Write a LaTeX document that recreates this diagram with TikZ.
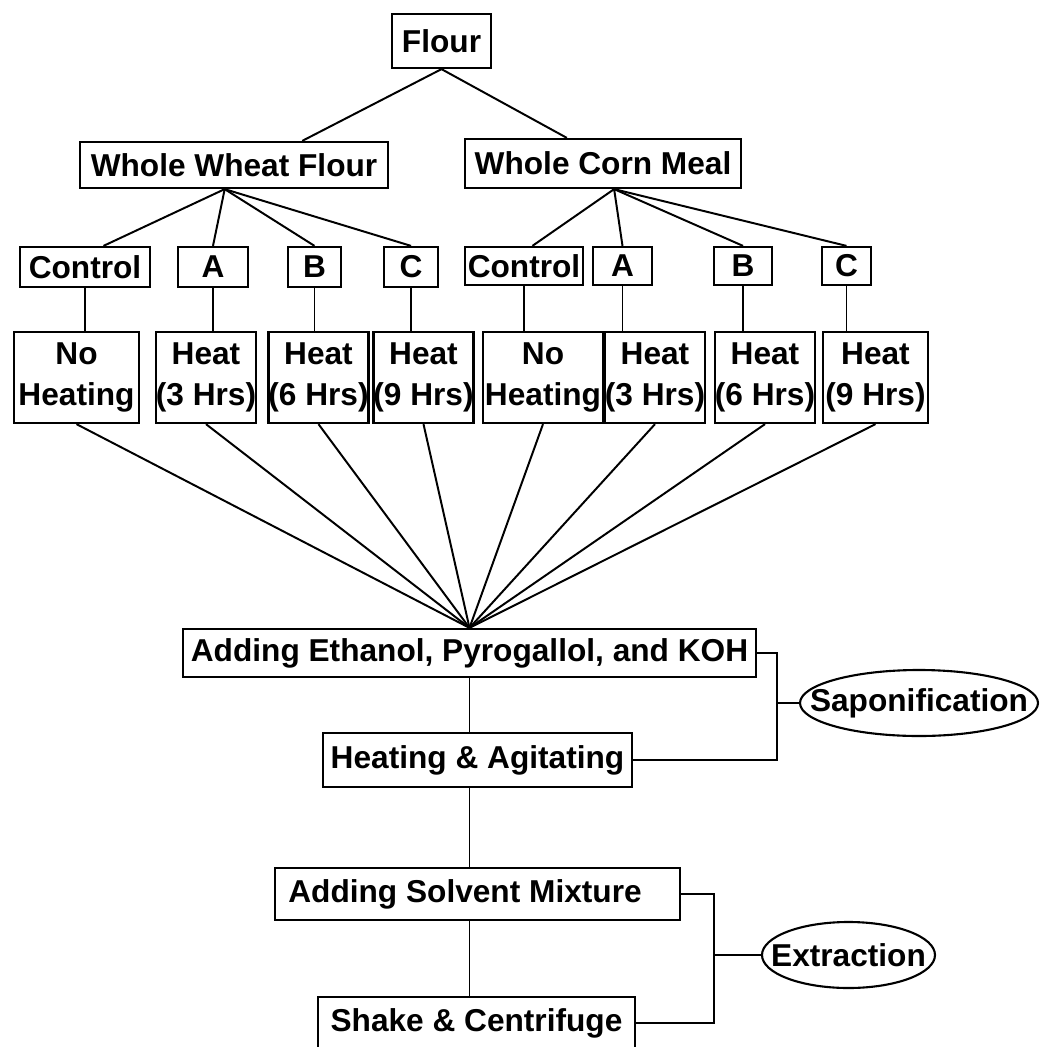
\documentclass[tikz,border=0pt]{standalone}
\usepackage{fontspec}
\setmainfont{Liberation Sans}
\usetikzlibrary{shapes.geometric, calc}
\newlength{\pxu}
\setlength{\pxu}{0.025cm}

\begin{document}
\begin{tikzpicture}[
    x=0.025cm, y=-0.025cm,
    stage/.style={draw, line width=1.6pt, inner sep=0pt, align=center, font=\fontsize{22.5}{29.5}\selectfont\bfseries},
    oval/.style={ellipse, draw, line width=1.5pt, inner sep=0pt, font=\fontsize{22.5}{29.5}\selectfont\bfseries},
    link/.style={line width=1.4pt},
]
    \useasboundingbox (0,0) rectangle (1040,1047);

    % Flour and the two meals
    \node[stage, minimum width=99\pxu, minimum height=54\pxu] (flour) at (441.5,41) {Flour};
    \node[stage, minimum width=308\pxu, minimum height=46\pxu] (wwf) at (234,165) {Whole Wheat Flour};
    \node[stage, minimum width=276\pxu, minimum height=49\pxu] (wcm) at (603,163.5) {Whole Corn Meal};
    \draw[link] (flour.south) -- ($(wwf.north west)!.72!(wwf.north east)$);
    \draw[link] (flour.south) -- ($(wcm.north west)!.37!(wcm.north east)$);
    \coordinate (wwfb) at ($(wwf.south west)!.47!(wwf.south east)$);
    \coordinate (wcmb) at ($(wcm.south west)!.54!(wcm.south east)$);

    % Treatments, wheat
    \node[stage, minimum width=130\pxu, minimum height=40\pxu] (ctrlW) at (85,267) {Control};
    \node[stage, minimum width=70\pxu, minimum height=40\pxu] (aW) at (213,267) {A};
    \node[stage, minimum width=53\pxu, minimum height=40\pxu] (bW) at (314.5,267) {B};
    \node[stage, minimum width=54\pxu, minimum height=40\pxu] (cW) at (411,267) {C};
    \draw[link] (wwfb) -- ($(ctrlW.north west)!.64!(ctrlW.north east)$);
    \draw[link] (wwfb) -- (aW.north);
    \draw[link] (wwfb) -- (bW.north);
    \draw[link] (wwfb) -- (cW.north);

    % Treatments, corn
    \node[stage, minimum width=118\pxu, minimum height=38\pxu] (ctrlC) at (524,266) {Control};
    \node[stage, minimum width=59\pxu, minimum height=38\pxu] (aC) at (622.5,266) {A};
    \node[stage, minimum width=58\pxu, minimum height=38\pxu] (bC) at (743,266) {B};
    \node[stage, minimum width=49\pxu, minimum height=38\pxu] (cC) at (846.5,266) {C};
    \draw[link] (wcmb) -- ($(ctrlC.north west)!.57!(ctrlC.north east)$);
    \draw[link] (wcmb) -- (aC.north);
    \draw[link] (wcmb) -- (bC.north);
    \draw[link] (wcmb) -- (cC.north);

    % Heating times
    \node[stage, minimum width=125\pxu, minimum height=91\pxu] (nhW) at (76.5,377.5) {No\\Heating};
    \node[stage, minimum width=100\pxu, minimum height=91\pxu] (h3W) at (206,377.5) {Heat\\(3 Hrs)};
    \node[stage, minimum width=99\pxu, minimum height=91\pxu] (h6W) at (318.5,377.5) {Heat\\(6 Hrs)};
    \node[stage, minimum width=99\pxu, minimum height=91\pxu] (h9W) at (423.5,377.5) {Heat\\(9 Hrs)};
    \node[stage, minimum width=120\pxu, minimum height=91\pxu] (nhC) at (543,377.5) {No\\Heating};
    \node[stage, minimum width=98\pxu, minimum height=91\pxu] (h3C) at (655,377.5) {Heat\\(3 Hrs)};
    \node[stage, minimum width=100\pxu, minimum height=91\pxu] (h6C) at (765,377.5) {Heat\\(6 Hrs)};
    \node[stage, minimum width=105\pxu, minimum height=91\pxu] (h9C) at (875.5,377.5) {Heat\\(9 Hrs)};
    \draw[link] (ctrlW.south) -- (ctrlW.south |- nhW.north);
    \draw[link] (aW.south) -- (aW.south |- h3W.north);
    \draw[link] (bW.south) -- (bW.south |- h6W.north);
    \draw[link] (cW.south) -- (cW.south |- h9W.north);
    \draw[link] (ctrlC.south) -- (ctrlC.south |- nhC.north);
    \draw[link] (aC.south) -- (aC.south |- h3C.north);
    \draw[link] (bC.south) -- (bC.south |- h6C.north);
    \draw[link] (cC.south) -- (cC.south |- h9C.north);

    % Saponification
    \node[stage, minimum width=573\pxu, minimum height=48\pxu] (eth) at (469.5,653) {Adding Ethanol, Pyrogallol, and KOH};
    \draw[link] (nhW.south) -- (eth.north);
    \draw[link] (h3W.south) -- (eth.north);
    \draw[link] (h6W.south) -- (eth.north);
    \draw[link] (h9W.south) -- (eth.north);
    \draw[link] (nhC.south) -- (eth.north);
    \draw[link] (h3C.south) -- (eth.north);
    \draw[link] (h6C.south) -- (eth.north);
    \draw[link] (h9C.south) -- (eth.north);
    \node[stage, minimum width=309\pxu, minimum height=54\pxu] (agit) at (477.5,760) {Heating \& Agitating};
    \draw[link] (eth.south) -- (eth.south |- agit.north);
    \node[oval, minimum width=238\pxu, minimum height=66\pxu] (sapo) at (919,703) {\makebox[0pt]{Saponification}};
    \draw[link] (eth.east) -- ++(20,0) coordinate (sapk) |- (agit.east);
    \draw[link] (sapo.west) -- (sapo.west -| sapk);

    % Extraction
    \node[stage, minimum width=405\pxu, minimum height=52\pxu] (solv) at (477.5,894) {Adding Solvent Mixture\hspace{25\pxu}};
    \node[stage, minimum width=317\pxu, minimum height=52\pxu] (shake) at (476.5,1023) {Shake \& Centrifuge};
    \draw[link] (agit.south -| eth.south) -- (solv.north -| eth.south);
    \draw[link] (solv.south -| eth.south) -- (shake.north -| eth.south);
    \node[oval, minimum width=173\pxu, minimum height=66\pxu] (extr) at (848.5,955) {\makebox[0pt]{Extraction}};
    \draw[link] (solv.east) -- ++(33,0) coordinate (extk) |- (shake.east);
    \draw[link] (extr.west) -- (extr.west -| extk);
\end{tikzpicture}
\end{document}
